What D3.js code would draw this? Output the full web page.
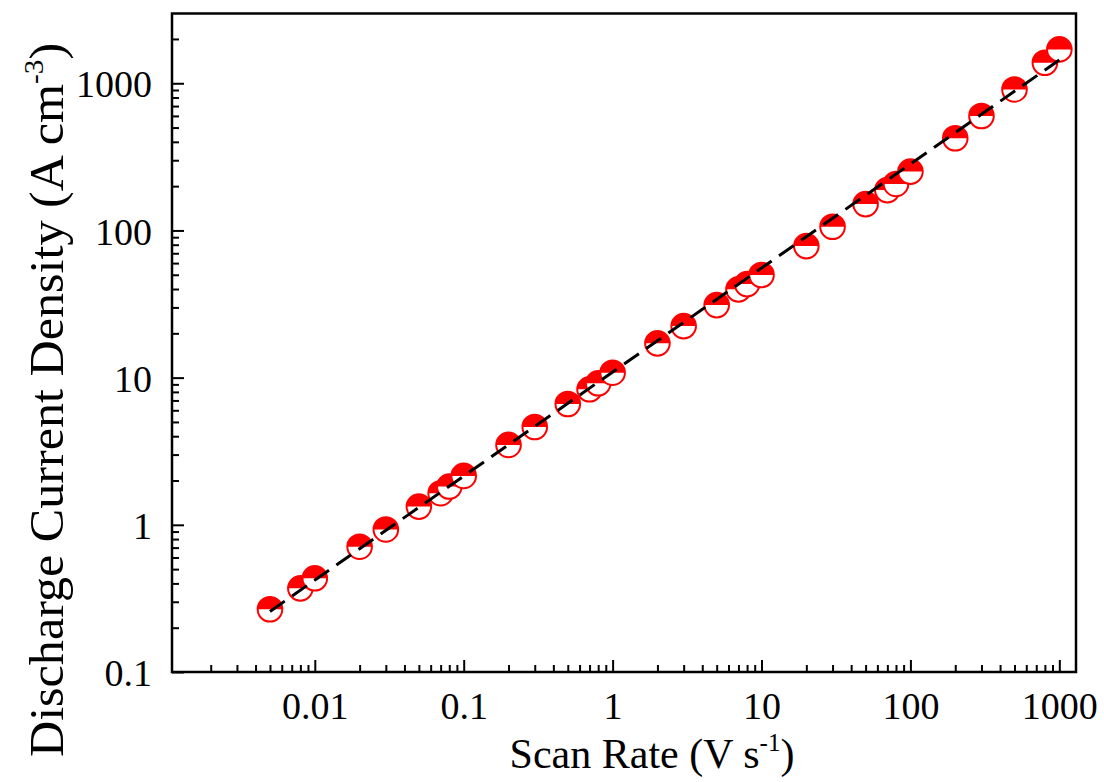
<!DOCTYPE html>
<html>
<head>
<meta charset="utf-8">
<script src="https://cdn.jsdelivr.net/npm/d3@7"></script>
<style>
  body { margin: 0; background: #fff; }
</style>
</head>
<body>
<div class="chart"></div>
<script>
// scan rate (V/s) and discharge current density (A/cm3)
const scanRate = [0.005, 0.008, 0.01, 0.02, 0.03, 0.05, 0.07, 0.08, 0.1, 0.2, 0.3, 0.5, 0.7, 0.8, 1, 2, 3, 5, 7, 8, 10, 20, 30, 50, 70, 80, 100, 200, 300, 500, 800, 1000];
const current = [0.267, 0.37, 0.433, 0.71, 0.93, 1.33, 1.64, 1.82, 2.15, 3.49, 4.62, 6.62, 8.33, 9.15, 10.8, 17.1, 22.4, 31.1, 39.8, 43.2, 49.8, 78.3, 106, 151, 188, 207, 251, 423, 599, 908, 1378, 1699];

// fitted line ends
const fitX = [0.005, 1000];
const fitY = [0.258, 1440];

const xTicks = [0.01, 0.1, 1, 10, 100, 1000];
const xTickLabels = ['0.01', '0.1', '1', '10', '100', '1000'];
const yTicks = [0.1, 1, 10, 100, 1000];
const yTickLabels = ['0.1', '1', '10', '100', '1000'];

const W = 1104, H = 782;
const pL = 172, pR = 1076, pT = 13.5, pB = 672;
const serif = '"Liberation Serif", "Times New Roman", serif';

const svg = d3.select('.chart').append('svg')
  .attr('width', W).attr('height', H);

const x = d3.scaleLog().domain([Math.pow(10, -2.959), Math.pow(10, 3.112)]).range([pL, pR]);
const y = d3.scaleLog().domain([0.1, Math.pow(10, 3.474)]).range([pB, pT]);

// minor ticks 2..9 per decade inside the domain
function minors(sc){
  const d = sc.domain(), out = [];
  for (let e = -4; e <= 4; e++){
    for (let m = 2; m <= 9; m++){
      const v = m * Math.pow(10, e);
      if (v > d[0] && v < d[1]) out.push(v);
    }
  }
  return out;
}

// x axis ticks
const gx = svg.append('g').attr('transform', `translate(0,${pB})`);
gx.call(d3.axisBottom(x).tickValues(minors(x)).tickSize(-7).tickFormat(''));
gx.select('.domain').remove();
const gx2 = svg.append('g').attr('transform', `translate(0,${pB})`);
gx2.call(d3.axisBottom(x).tickValues(xTicks).tickSize(-12).tickFormat((d, i) => xTickLabels[i]).tickPadding(0));
gx2.select('.domain').remove();
gx2.selectAll('text').attr('y', 47).attr('dy', null);

// y axis ticks
const gy = svg.append('g').attr('transform', `translate(${pL},0)`);
gy.call(d3.axisLeft(y).tickValues(minors(y)).tickSize(-7).tickFormat(''));
gy.select('.domain').remove();
const gy2 = svg.append('g').attr('transform', `translate(${pL},0)`);
gy2.call(d3.axisLeft(y).tickValues(yTicks).tickSize(-12).tickFormat((d, i) => yTickLabels[i]));
gy2.select('.domain').remove();
gy2.selectAll('text').attr('x', -20).attr('dy', '0.36em');

svg.selectAll('.tick text').style('font-family', serif).style('font-size', '38px').attr('fill', '#000');
svg.selectAll('.tick line').attr('stroke', '#000').attr('stroke-width', 2);

// markers: red top half, white bottom half
const r = 12.3;
const halfTop = d3.arc().innerRadius(0).outerRadius(r).startAngle(-Math.PI/2).endAngle(Math.PI/2);
const pts = svg.append('g').selectAll('g')
  .data(scanRate.map((v, i) => [v, current[i]]))
  .enter().append('g')
  .attr('transform', d => `translate(${x(d[0])},${y(d[1])})`);
pts.append('circle').attr('r', r).attr('fill', '#fff');
pts.append('path').attr('d', halfTop).attr('fill', '#ff0000');
pts.append('circle').attr('r', r).attr('fill', 'none').attr('stroke', '#ff0000').attr('stroke-width', 2);

// fit line (dashed)
svg.append('path')
  .datum(fitX.map((v, i) => [v, fitY[i]]))
  .attr('d', d3.line().x(d => x(d[0])).y(d => y(d[1])))
  .attr('fill', 'none').attr('stroke', '#000').attr('stroke-width', 3)
  .attr('stroke-dasharray', '18,9');

// frame
svg.append('rect')
  .attr('x', pL).attr('y', pT)
  .attr('width', pR - pL).attr('height', pB - pT)
  .attr('fill', 'none').attr('stroke', '#000').attr('stroke-width', 2.5);

// axis titles
const xt = svg.append('text').attr('x', 652).attr('y', 768)
  .attr('text-anchor', 'middle').style('font-family', serif).style('font-size', '42px');
xt.append('tspan').text('Scan Rate (V s');
xt.append('tspan').attr('dy', -17).style('font-size', '25px').text('-1');
xt.append('tspan').attr('dy', 17).text(')');

const yt = svg.append('text')
  .attr('transform', 'translate(63,400) rotate(-90) scale(1.045,1)')
  .attr('text-anchor', 'middle').style('font-family', serif).style('font-size', '48px');
yt.append('tspan').text('Discharge Current Density (A cm');
yt.append('tspan').attr('dy', -20).style('font-size', '28px').text('-3');
yt.append('tspan').attr('dy', 20).text(')');
</script>
</body>
</html>
